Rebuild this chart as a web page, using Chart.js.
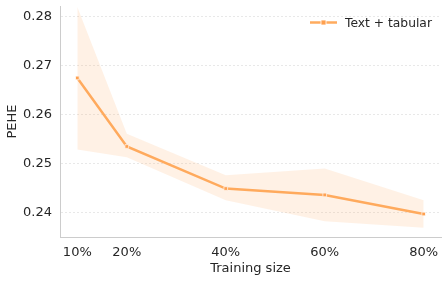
<!DOCTYPE html>
<html>
<head>
<meta charset="utf-8">
<script src="https://cdn.jsdelivr.net/npm/chart.js@4"></script>
<style>
  html, body { margin: 0; padding: 0; background: #fff; }
  #wrap { width: 448px; height: 281px; }
</style>
</head>
<body>
<div id="wrap"><canvas id="pehe" width="448" height="281"></canvas></div>
<script>
// training size (%) and PEHE readings
const sizes = [10, 20, 40, 60, 80];
const pehe = [0.2675, 0.2535, 0.2449, 0.2436, 0.2397];
const upper = [0.2820, 0.2561, 0.2476, 0.2490, 0.2425];
const lower = [0.2529, 0.2513, 0.2425, 0.2382, 0.2369];
const yTicks = [0.24, 0.25, 0.26, 0.27, 0.28];
const seriesName = 'Text + tabular';

const lineColor = '#ffab5e';
const font = { family: 'DejaVu Sans', size: 13 };

const pts = arr => arr.map((v, i) => ({ x: sizes[i], y: v }));

// legend drawn by hand: short line with a square marker, then the label
const legendPlugin = {
  id: 'lineLegend',
  afterDraw(chart) {
    const ctx = chart.ctx;
    const y = 22.5;
    ctx.save();
    ctx.strokeStyle = lineColor;
    ctx.lineWidth = 2.5;
    ctx.beginPath();
    ctx.moveTo(310, y);
    ctx.lineTo(337, y);
    ctx.stroke();
    ctx.fillStyle = '#ffa04f';
    ctx.strokeStyle = '#fff';
    ctx.lineWidth = 0.8;
    ctx.fillRect(321, y - 2.5, 5, 5);
    ctx.strokeRect(321, y - 2.5, 5, 5);
    ctx.fillStyle = '#262626';
    ctx.font = '12.3px "DejaVu Sans"';
    ctx.textBaseline = 'middle';
    ctx.fillText(chart.data.datasets[2].label, 345, y + 1);
    ctx.restore();
  }
};

new Chart(document.getElementById('pehe'), {
  type: 'line',
  data: {
    datasets: [
      {
        label: 'upper',
        data: pts(upper),
        borderWidth: 0,
        pointRadius: 0,
        fill: '+1',
        backgroundColor: 'rgba(255, 165, 95, 0.16)'
      },
      {
        label: 'lower',
        data: pts(lower),
        borderWidth: 0,
        pointRadius: 0,
        fill: false
      },
      {
        label: seriesName,
        data: pts(pehe),
        borderColor: lineColor,
        borderWidth: 2.5,
        pointStyle: 'rect',
        pointRadius: 2.6,
        pointBackgroundColor: '#ffa04f',
        pointBorderColor: '#fff',
        pointBorderWidth: 0.8,
        fill: false
      }
    ]
  },
  options: {
    responsive: false,
    animation: false,
    layout: { padding: { top: 6, right: 7, left: 0, bottom: 0 } },
    plugins: {
      legend: { display: false },
      tooltip: { enabled: false }
    },
    scales: {
      x: {
        type: 'linear',
        min: 6.5,
        max: 83.5,
        afterBuildTicks: axis => { axis.ticks = sizes.map(v => ({ value: v })); },
        afterFit: axis => { axis.height = 44; axis.paddingLeft = 0; axis.paddingRight = 0; },
        grid: { display: false, drawTicks: false },
        border: { color: '#cccccc', width: 1 },
        ticks: {
          padding: 8,
          color: '#262626',
          font: font,
          callback: v => v + '%'
        },
        title: {
          display: true,
          text: 'Training size',
          color: '#262626',
          font: font,
          padding: { top: 1, bottom: 5 }
        }
      },
      y: {
        min: 0.235,
        max: 0.2822,
        afterBuildTicks: axis => { axis.ticks = yTicks.map(v => ({ value: v })); },
        afterFit: axis => { axis.width = 60; axis.paddingTop = 0; axis.paddingBottom = 0; },
        grid: {
          color: '#e3e3e3',
          lineWidth: 0.8,
          drawTicks: false
        },
        border: { color: '#cccccc', width: 1, dash: [2, 2] },
        ticks: {
          padding: 8,
          color: '#262626',
          font: font,
          callback: v => v.toFixed(2)
        },
        title: {
          display: true,
          text: 'PEHE',
          color: '#262626',
          font: font,
          padding: { top: 5, bottom: 2 }
        }
      }
    }
  },
  plugins: [legendPlugin]
});
</script>
</body>
</html>
